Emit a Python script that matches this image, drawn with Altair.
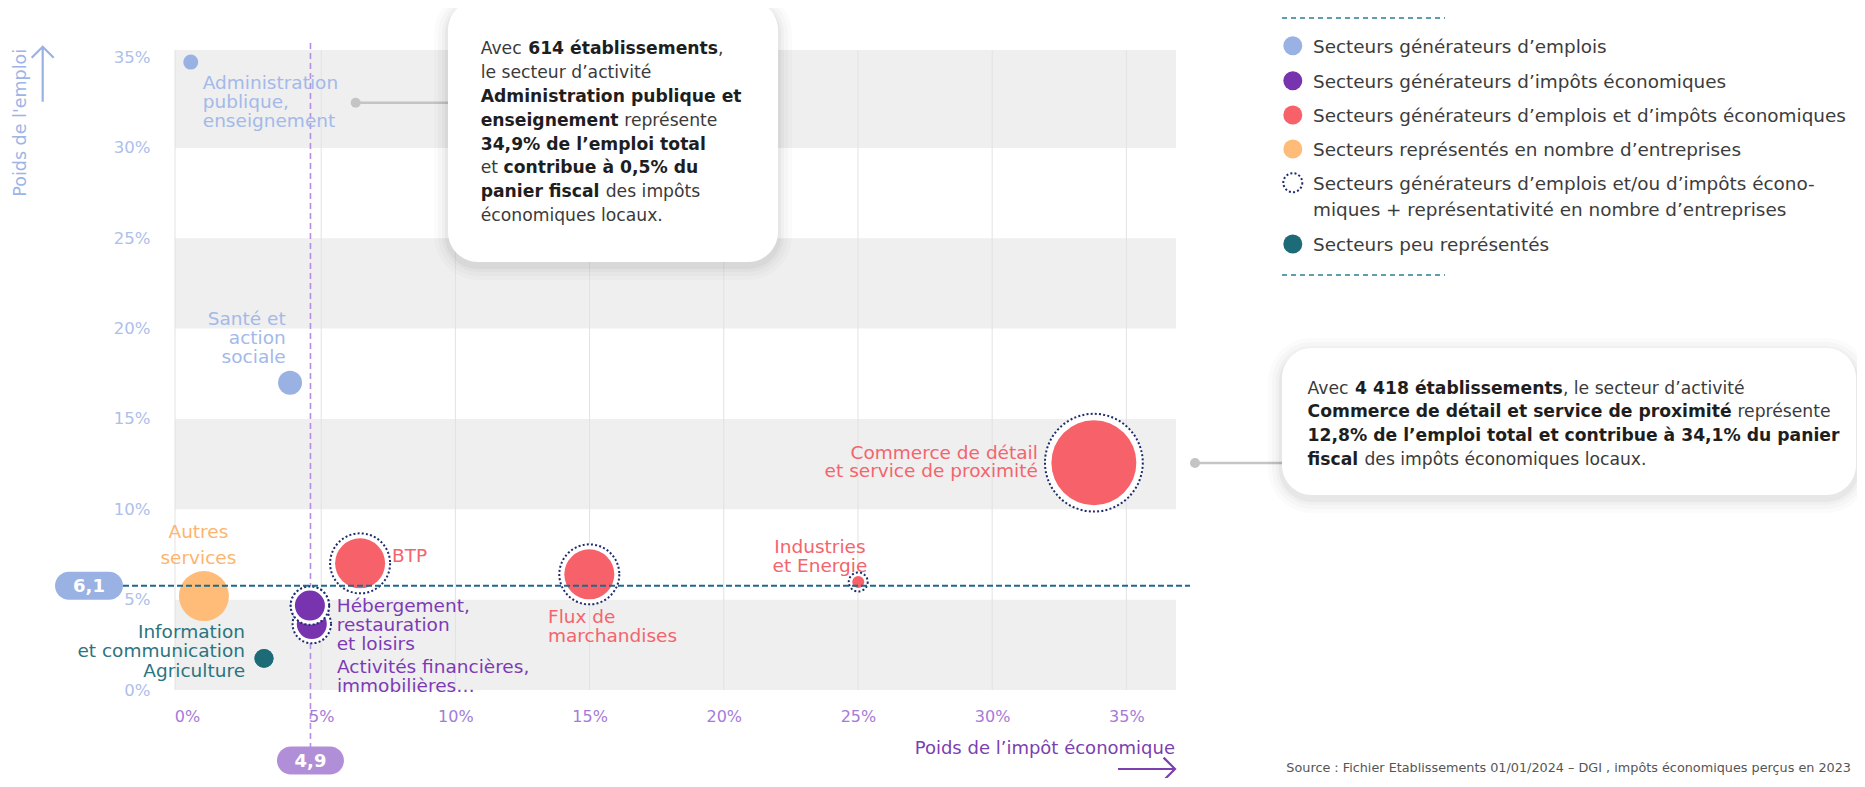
import altair as alt
import pandas as pd

# ---------------- données ----------------
secteurs = [
    "Administration publique, enseignement",
    "Santé et action sociale",
    "Commerce de détail et service de proximité",
    "BTP",
    "Flux de marchandises",
    "Industries et Energie",
    "Autres services",
    "Hébergement, restauration et loisirs",
    "Activités financières, immobilières",
    "Information et communication",
    "Agriculture",
]
poids_impot = [0.14, 3.84, 33.79, 6.45, 14.99, 25.01, 0.63, 4.58, 4.65, 2.87, 2.87]
poids_emploi = [34.75, 17.01, 12.58, 7.01, 6.40, 5.98, 5.20, 4.67, 3.65, 1.75, 1.75]
taille_bulle = [56, 144, 1806, 625, 625, 36, 625, 225, 225, 90, 90]
categorie = ["emplois", "emplois", "emplois_impots", "emplois_impots", "emplois_impots",
             "emplois_impots", "entreprises", "impots", "impots", "peu", "peu"]
representativite = [False, False, True, True, True, True, False, True, True, False, False]
etiquettes = [
    "Administration\npublique,\nenseignement",
    "Santé et\naction\nsociale",
    "Commerce de détail\net service de proximité",
    "BTP",
    "Flux de\nmarchandises",
    "Industries\net Energie",
    "Autres\nservices",
    "Hébergement,\nrestauration\net loisirs",
    "Activités financières,\nimmobilières…",
    "Information\net communication",
    "Agriculture",
]

categories_legende = ["emplois", "impots", "emplois_impots", "entreprises", "peu"]
couleurs_categories = ["#9AB2E3", "#7833AE", "#F6616A", "#FEBC78", "#1E6B78"]
libelles_legende = [
    ["Secteurs générateurs d’emplois"],
    ["Secteurs générateurs d’impôts économiques"],
    ["Secteurs générateurs d’emplois et d’impôts économiques"],
    ["Secteurs représentés en nombre d’entreprises"],
    ["Secteurs générateurs d’emplois et/ou d’impôts écono-",
     "miques + représentativité en nombre d’entreprises"],
    ["Secteurs peu représentés"],
]

x_ticks = [0, 5, 10, 15, 20, 25, 30, 35]
y_ticks = [0, 5, 10, 15, 20, 25, 30, 35]
bande_debut = [0, 10, 20, 30]
bande_fin = [5, 15, 25, 35.42]

ref_emploi_valeur = 5.77
ref_emploi_libelle = "6,1"
ref_impot_valeur = 4.6
ref_impot_libelle = "4,9"

encadre_1 = [
    [("Avec ", False), ("614 établissements", True), (",", False)],
    [("le secteur d’activité", False)],
    [("Administration publique et", True)],
    [("enseignement", True), (" représente", False)],
    [("34,9% de l’emploi total", True)],
    [("et ", False), ("contribue à 0,5% du", True)],
    [("panier fiscal", True), (" des impôts", False)],
    [("économiques locaux.", False)],
]
encadre_2 = [
    [("Avec ", False), ("4 418 établissements", True), (", le secteur d’activité", False)],
    [("Commerce de détail et service de proximité", True), (" représente", False)],
    [("12,8% de l’emploi total et contribue à 34,1% du panier", True)],
    [("fiscal", True), (" des impôts économiques locaux.", False)],
]
source = "Source : Fichier Etablissements 01/01/2024 – DGI , impôts économiques perçus en 2023"

# ---------------- mise en page ----------------
FONT = "DejaVu Sans"
W, H = 1001, 640
OX, OY = 175, 50


def PX(v):
    return round(v - OX, 1)


def PY(v):
    return round(v - OY, 1)


REG = {' ': 651, 'A': 1401, 'C': 1430, 'S': 1300, 'a': 1255, 'b': 1300, 'c': 1126, 'd': 1300,
       'e': 1260, 'f': 721, 'g': 1300, 'h': 1298, 'i': 569, 'l': 569, 'm': 1995, 'n': 1298,
       'o': 1253, 'p': 1300, 'q': 1300, 'r': 842, 's': 1067, 't': 803, 'u': 1298, 'v': 1212,
       'x': 1212, ',': 651, '.': 651, '’': 651}
BOLD = {' ': 713, 'A': 1585, 'C': 1505, 'a': 1382, 'b': 1466, 'c': 1214, 'd': 1466, 'e': 1389,
        'f': 891, 'g': 1466, 'i': 702, 'l': 702, 'm': 2134, 'n': 1458, 'o': 1407, 'p': 1466,
        'q': 1466, 'r': 1010, 's': 1219, 't': 979, 'u': 1458, 'v': 1335, 'x': 1325, ',': 780,
        '.': 780, '%': 2052, '’': 780}
ACC = {'é': 'e', 'è': 'e', 'à': 'a', 'ô': 'o', 'ç': 'c'}


def text_width(s, bold, fs):
    tab = BOLD if bold else REG
    tot = 0
    for ch in s:
        ch = ACC.get(ch, ch)
        if ch.isdigit():
            tot += 1425 if bold else 1303
        else:
            tot += tab.get(ch, 1300)
    return tot / 2048 * fs


dummy = pd.DataFrame({"d": [0]})


def txt(x, y, s, size, color, weight="normal", align="left", angle=0):
    return alt.Chart(dummy).mark_text(
        text=s, fontSize=size, color=color, fontWeight=weight, align=align,
        baseline="middle", font=FONT, angle=angle,
    ).encode(x=alt.value(PX(x)), y=alt.value(PY(y) + round(0.075 * size, 1)))


def pill(w, h):
    a = (h / 2) / (w / 2)
    b = 1 - a
    return (f"M{-b:.3f},{-a:.3f}L{b:.3f},{-a:.3f}A{a:.3f},{a:.3f} 0 0 1 {b:.3f},{a:.3f}"
            f"L{-b:.3f},{a:.3f}A{a:.3f},{a:.3f} 0 0 1 {-b:.3f},{-a:.3f}Z")


df = pd.DataFrame({
    "secteur": secteurs, "x": poids_impot, "y": poids_emploi, "taille": taille_bulle,
    "categorie": categorie, "repr": representativite, "etiquette": etiquettes,
})

xs = alt.Scale(domain=[-0.447, 36.85], nice=False, zero=False)
ys = alt.Scale(domain=[0, 35.42], nice=False, zero=False)
ss = alt.Scale(type="linear", domain=[0, 1806], range=[0, 7224])
cs = alt.Scale(domain=categories_legende, range=couleurs_categories)

axis_y = alt.Axis(values=y_ticks, labelExpr="datum.value + '%'", ticks=False, domain=False,
                  grid=False, title=None, labelColor="#ADC0EC", labelFontSize=16.5,
                  labelFont=FONT, labelPadding=25, labelBaseline="middle")
axis_x = alt.Axis(values=x_ticks, labelExpr="datum.value + '%'", ticks=False, domain=False,
                  grid=False, title=None, labelColor="#A47BD9", labelFontSize=16,
                  labelFont=FONT, labelPadding=18, labelAngle=0)


def ex(f):
    return alt.X(f, scale=xs, axis=axis_x)


def ey(f):
    return alt.Y(f, scale=ys, axis=axis_y)


layers = []

# bandes grises
layers.append(alt.Chart(pd.DataFrame({"y0": bande_debut, "y1": bande_fin})).mark_rect(
    color="#EFEFEF").encode(x=alt.value(0), x2=alt.value(W), y=ey("y0:Q"), y2="y1:Q"))
# grille verticale
layers.append(alt.Chart(pd.DataFrame({"t": x_ticks[1:]})).mark_rule(
    color="#E2E2E2", strokeWidth=1).encode(x=ex("t:Q"), y=alt.value(0), y2=alt.value(H)))
layers.append(alt.Chart(dummy).mark_rule(color="#E2E2E2", strokeWidth=1).encode(
    x=alt.value(0), y=alt.value(0), y2=alt.value(H)))

# ligne verticale de référence (4,9)
ref_impot_df = pd.DataFrame({"v": [ref_impot_valeur], "lab": [ref_impot_libelle]})
layers.append(alt.Chart(ref_impot_df).mark_rule(
    color="#B68EE3", strokeWidth=1.6, strokeDash=[6, 4]).encode(
    x=ex("v:Q"), y=alt.value(PY(43)), y2=alt.value(PY(747))))

# bulles
ring_expr = "pow(1.08*sqrt(datum.taille)+3, 2)"


def rings(chart):
    return chart.transform_filter("datum.repr").transform_calculate(anneau=ring_expr).mark_circle(
        fill="white", stroke="#1F2B6E", strokeWidth=2, strokeDash=[2, 2.2], opacity=1).encode(
        x=ex("x:Q"), y=ey("y:Q"), size=alt.Size("anneau:Q", scale=ss, legend=None))


def bubbles(chart):
    return chart.mark_circle(opacity=1).encode(
        x=ex("x:Q"), y=ey("y:Q"), size=alt.Size("taille:Q", scale=ss, legend=None),
        color=alt.Color("categorie:N", scale=cs, legend=None))


base = alt.Chart(df)
layers += [rings(base), bubbles(base)]
top = alt.Chart(df).transform_filter(alt.datum.secteur == secteurs[7])
layers += [rings(top), bubbles(top)]

# étiquettes des bulles
C_EMP, C_RED, C_ORA, C_PUR, C_TEA = "#A3B9E9", "#F4646C", "#FDB46E", "#7D3AB5", "#2B7480"
style_etiquettes = {
    secteurs[0]: dict(align="left", dx=12, dy=11.4, color=C_EMP, lh=19),
    secteurs[1]: dict(align="right", dx=-4.3, dy=-73, color=C_EMP, lh=19),
    secteurs[2]: dict(align="right", dx=-56, dy=-19, color=C_RED, lh=18.5),
    secteurs[3]: dict(align="left", dx=32, dy=-16.6, color=C_RED, lh=19),
    secteurs[4]: dict(align="left", dx=-41.3, dy=33.4, color=C_RED, lh=19),
    secteurs[5]: dict(align="center", dx=-38.3, dy=-43.6, color=C_RED, lh=19),
    secteurs[6]: dict(align="center", dx=-5.5, dy=-72.6, color=C_ORA, lh=26),
    secteurs[7]: dict(align="left", dx=26.8, dy=-9, color=C_PUR, lh=19),
    secteurs[8]: dict(align="left", dx=25.1, dy=34.4, color=C_PUR, lh=18.5),
    secteurs[9]: dict(align="right", dx=-19, dy=-34.9, color=C_TEA, lh=18.5),
    secteurs[10]: dict(align="right", dx=-19, dy=4.1, color=C_TEA, lh=19),
}
for name in secteurs:
    st = style_etiquettes[name]
    layers.append(alt.Chart(df).transform_filter(alt.datum.secteur == name).mark_text(
        align=st["align"], baseline="top", dx=st["dx"], dy=st["dy"], color=st["color"],
        lineHeight=st["lh"], lineBreak="\n", fontSize=18.5, font=FONT).encode(
        x=ex("x:Q"), y=ey("y:Q"), text="etiquette:N"))

# ligne horizontale de référence (6,1) + badges
ref_emp_df = pd.DataFrame({"v": [ref_emploi_valeur], "lab": [ref_emploi_libelle]})
layers.append(alt.Chart(ref_emp_df).mark_rule(
    color="#1C6A8C", strokeWidth=2, strokeDash=[6, 3]).encode(
    y=ey("v:Q"), x=alt.value(PX(123)), x2=alt.value(PX(1190))))
layers.append(alt.Chart(ref_emp_df).mark_point(
    shape=pill(68, 28), size=68 * 68, filled=True, color="#9AB2E3", opacity=1,
    strokeWidth=0).encode(x=alt.value(PX(89)), y=ey("v:Q")))
layers.append(alt.Chart(ref_emp_df).mark_text(
    fontSize=18, fontWeight="bold", color="white", font=FONT, align="center",
    baseline="middle", dy=1.5).encode(x=alt.value(PX(89)), y=ey("v:Q"), text="lab:N"))
layers.append(alt.Chart(ref_impot_df).mark_point(
    shape=pill(67, 28), size=67 * 67, filled=True, color="#B18FD8", opacity=1,
    strokeWidth=0).encode(x=ex("v:Q"), y=alt.value(PY(760.5))))
layers.append(alt.Chart(ref_impot_df).mark_text(
    fontSize=18, fontWeight="bold", color="white", font=FONT, align="center",
    baseline="middle", dy=1.5).encode(x=ex("v:Q"), y=alt.value(PY(760.5)), text="lab:N"))

# titres d'axes et flèches
layers.append(txt(20.7, 121.5, "Poids de l'emploi", 17.5, "#9DB4E6", angle=270, align="center"))
layers.append(alt.Chart(dummy).mark_point(
    shape="M0,1L0,-1M-0.4,-0.6L0,-1L0.4,-0.6", size=55 * 55, filled=False,
    color="#9AB2E3", strokeWidth=2.2, opacity=1).encode(
    x=alt.value(PX(42.7)), y=alt.value(PY(74.2))))
layers.append(txt(1175, 748, "Poids de l’impôt économique", 18, "#7B3FB0", align="right"))
layers.append(alt.Chart(dummy).mark_point(
    shape="M-1,0L1,0M0.6,-0.4L1,0L0.6,0.4", size=57 * 57, filled=False,
    color="#7B3FB0", strokeWidth=2.2, opacity=1).encode(
    x=alt.value(PX(1146.5)), y=alt.value(PY(769))))


# encadrés
def box(x0, y0, x1, y1, r=30):
    out = []
    for e, op in [(14, 0.015), (10, 0.02), (6, 0.025), (3, 0.035)]:
        out.append(alt.Chart(dummy).mark_rect(color="black", opacity=op, cornerRadius=r + e).encode(
            x=alt.value(PX(x0 - e)), x2=alt.value(PX(x1 + e)),
            y=alt.value(PY(y0 - e + 4)), y2=alt.value(PY(y1 + e + 4))))
    out.append(alt.Chart(dummy).mark_rect(color="white", cornerRadius=r, opacity=1).encode(
        x=alt.value(PX(x0)), x2=alt.value(PX(x1)), y=alt.value(PY(y0)), y2=alt.value(PY(y1))))
    return out


def connector(xd, xe, y):
    return [
        alt.Chart(dummy).mark_rule(color="#C4C4C4", strokeWidth=2.5).encode(
            x=alt.value(PX(xd)), x2=alt.value(PX(xe)), y=alt.value(PY(y))),
        alt.Chart(dummy).mark_circle(color="#C4C4C4", size=100, opacity=1).encode(
            x=alt.value(PX(xd)), y=alt.value(PY(y))),
    ]


def rich(x0, y0, dy, lines, fs):
    out = []
    for i, segs in enumerate(lines):
        cx = x0
        for s, bold in segs:
            lead = len(s) - len(s.lstrip(" "))
            xd = cx + text_width(" " * lead, bold, fs)
            out.append(txt(xd, y0 + i * dy, s.strip(), fs,
                           "#1E1E1E" if bold else "#3A3A3A",
                           weight="bold" if bold else "normal"))
            cx += text_width(s, bold, fs)
    return out


layers += connector(355.7, 450, 102.7)
layers += box(448, 0, 778, 262)
layers += rich(480.7, 48.0, 23.8, encadre_1, 17.2)
layers += connector(1195, 1284, 463)
layers += box(1282, 348, 1856, 495)
layers += rich(1307.6, 387.2, 23.8, encadre_2, 17.2)

# légende
leg_dash = dict(color="#2E7D8F", strokeWidth=1.5, strokeDash=[5, 4])
for yy in (18, 275):
    layers.append(alt.Chart(dummy).mark_rule(**leg_dash).encode(
        x=alt.value(PX(1282)), x2=alt.value(PX(1445)), y=alt.value(PY(yy))))
leg_y = [45.7, 80.7, 115, 149, 182.7, 244]
leg_sym = ["#9AB2E3", "#7833AE", "#F6616A", "#FEBC78", None, "#1E6B78"]
for yy, col, labs in zip(leg_y, leg_sym, libelles_legende):
    if col is None:
        layers.append(alt.Chart(dummy).mark_point(
            shape="circle", size=4 * 9.5 * 9.5, filled=False, color="#1F2B6E",
            strokeWidth=2, strokeDash=[2, 2.2], opacity=1).encode(
            x=alt.value(PX(1292.8)), y=alt.value(PY(yy))))
    else:
        layers.append(alt.Chart(dummy).mark_circle(
            size=4 * 9.5 * 9.5, color=col, opacity=1).encode(
            x=alt.value(PX(1292.8)), y=alt.value(PY(yy))))
    for k, lab in enumerate(labs):
        layers.append(txt(1313, yy + k * 26.3, lab, 18.4, "#3C3C3C"))

# source
layers.append(txt(1851, 767, source, 12.8, "#555555", align="right"))

chart = alt.layer(*layers).properties(
    width=W, height=H,
    padding={"left": 167, "top": 42, "right": 681, "bottom": 88},
    autosize=alt.AutoSizeParams(type="none"),
    background="white",
).configure_view(stroke=None)

chart.save("out.html", embed_options={"renderer": "svg", "actions": False})
